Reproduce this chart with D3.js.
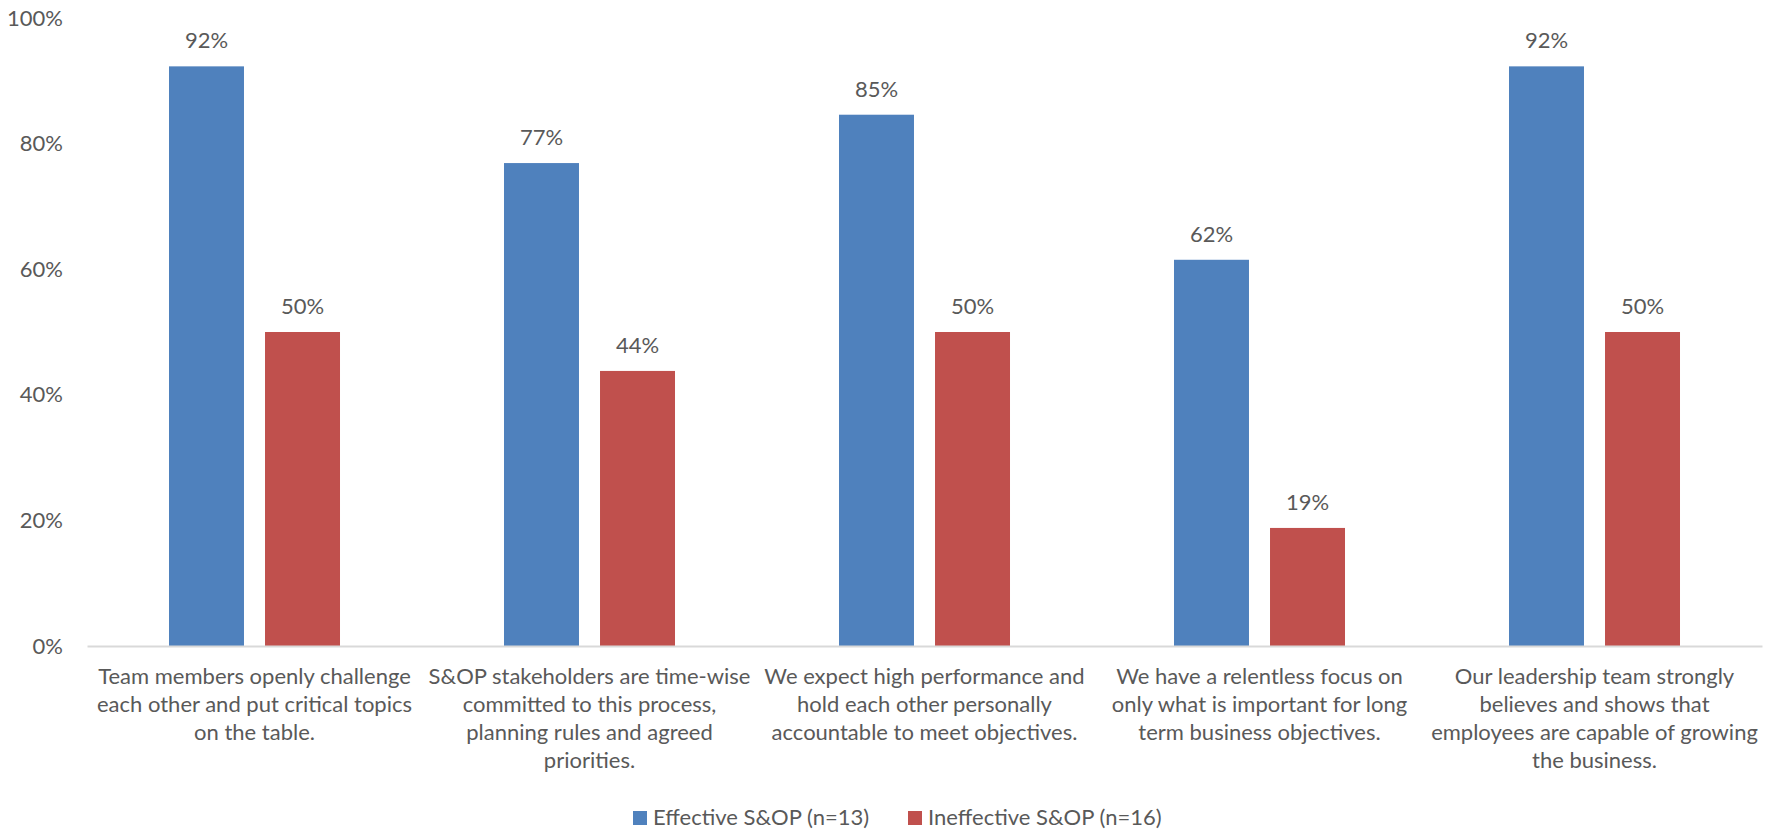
<!DOCTYPE html>
<html>
<head>
<meta charset="utf-8">
<script src="https://cdn.jsdelivr.net/npm/d3@7"></script>
<style>
  body { margin: 0; background: #fff; }
  svg text { font-family: Lato, "Open Sans", sans-serif; fill: #595959; }
</style>
</head>
<body>
<div id="chart"></div>
<script>
const width = 1777;
const height = 830;
const fontSize = 22;

// category labels, "\n" marks the line breaks seen in the picture
const categories = [
  "Team members openly challenge\neach other and put critical topics\non the table.",
  "S&OP stakeholders are time-wise\ncommitted to this process,\nplanning rules and agreed\npriorities.",
  "We expect high performance and\nhold each other personally\naccountable to meet objectives.",
  "We have a relentless focus on\nonly what is important for long\nterm business objectives.",
  "Our leadership team strongly\nbelieves and shows that\nemployees are capable of growing\nthe business."
];
const seriesNames = ["Effective S&OP (n=13)", "Ineffective S&OP (n=16)"];
const effective = [92.3, 76.9, 84.6, 61.5, 92.3];
const ineffective = [50, 43.8, 50, 18.8, 50];
const yTicks = [0, 20, 40, 60, 80, 100];
const colors = ["#4f81bd", "#c0504d"];

const margin = {top: 18, right: 15, bottom: 184, left: 87};

const svg = d3.select("#chart").append("svg")
  .attr("width", width)
  .attr("height", height);

const rows = categories.map((c, i) => ({cat: c, values: [effective[i], ineffective[i]]}));

const x0 = d3.scaleBand()
  .domain(categories)
  .range([margin.left, width - margin.right])
  .paddingInner(0).paddingOuter(0);

const x1 = d3.scaleBand()
  .domain([0, 1])
  .range([0, x0.bandwidth()])
  .paddingInner(0.219)
  .paddingOuter(0.854);

const y = d3.scaleLinear()
  .domain([0, 100])
  .range([height - margin.bottom, margin.top]);

// y axis labels only (no line, no gridlines)
const yAxis = g => g
  .attr("transform", `translate(${margin.left},0)`)
  .call(d3.axisLeft(y).tickValues(yTicks).tickFormat(d => d + "%").tickSize(0).tickPadding(24))
  .call(g => g.select(".domain").remove())
  .call(g => g.selectAll("text").attr("font-size", fontSize).style("font-family", "Lato"));

svg.append("g").call(yAxis);

// bars
const groups = svg.append("g").selectAll("g")
  .data(rows)
  .join("g")
    .attr("transform", d => `translate(${x0(d.cat)},0)`);

groups.selectAll("rect")
  .data(d => d.values.map((v, k) => ({k, v})))
  .join("rect")
    .attr("x", d => x1(d.k))
    .attr("width", x1.bandwidth())
    .attr("y", d => y(d.v))
    .attr("height", d => y(0) - y(d.v))
    .attr("fill", d => colors[d.k]);

groups.selectAll("text.val")
  .data(d => d.values.map((v, k) => ({k, v})))
  .join("text")
    .attr("class", "val")
    .attr("x", d => x1(d.k) + x1.bandwidth() / 2)
    .attr("y", d => y(d.v) - 18)
    .attr("text-anchor", "middle")
    .attr("font-size", fontSize)
    .text(d => d3.format(".0%")(d.v / 100));

// x axis line
const xAxis = g => g
  .attr("transform", `translate(0,${y(0)})`)
  .call(d3.axisBottom(x0).tickSize(0).tickFormat(""))
  .call(g => g.select(".domain").attr("stroke", "#d9d9d9").attr("stroke-width", 2));

svg.append("g").call(xAxis);

// category labels
const labels = svg.append("g").selectAll("text")
  .data(categories)
  .join("text")
    .attr("text-anchor", "middle")
    .attr("font-size", fontSize)
    .attr("y", y(0) + 38);

labels.selectAll("tspan")
  .data(d => d.split("\n").map(line => ({line, x: x0(d) + x0.bandwidth() / 2})))
  .join("tspan")
    .attr("x", d => d.x)
    .attr("dy", (d, i) => i === 0 ? 0 : 28)
    .text(d => d.line);

// legend
const legendX = [633, 908];
const legend = svg.append("g").selectAll("g")
  .data(seriesNames)
  .join("g")
    .attr("transform", (d, i) => `translate(${legendX[i]},811)`);

legend.append("rect")
  .attr("width", 14).attr("height", 14)
  .attr("fill", (d, i) => colors[i]);

legend.append("text")
  .attr("x", 20).attr("y", 14)
  .attr("font-size", fontSize)
  .text(d => d);
</script>
</body>
</html>
